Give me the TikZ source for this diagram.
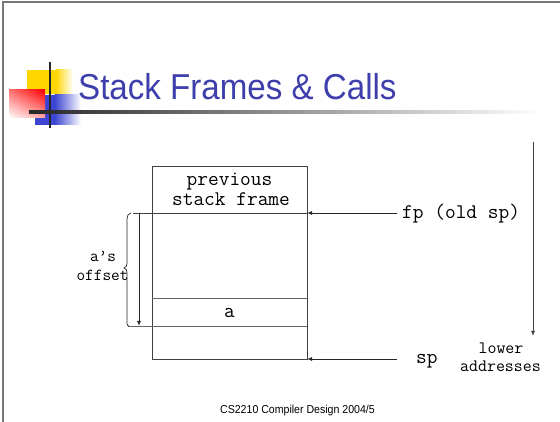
\documentclass[tikz,border=0pt]{standalone}
\usepackage{fontspec}
\usetikzlibrary{arrows.meta,shadings}
\newfontfamily\titlefont[FakeStretch=0.92]{Liberation Sans}
\newcommand{\monofont}{\ttfamily}
\definecolor{titleblue}{RGB}{62,62,172}
\definecolor{logoyellow}{RGB}{255,214,0}
\definecolor{logoblue}{RGB}{60,70,210}
\definecolor{framegrey}{RGB}{120,120,120}
\tikzset{
  mono/.style={font=\monofont\fontsize{20.8}{22}\selectfont, inner sep=0pt},
  monosmall/.style={font=\monofont\fontsize{16.8}{18}\selectfont, inner sep=0pt},
  monolow/.style={font=\monofont\fontsize{17.4}{19}\selectfont, inner sep=0pt},
  boxline/.style={draw=black!75, line width=0.9pt},
  ptr/.style={draw=black!85, line width=0.9pt, -{Latex[length=5pt,width=4pt]}},
}
\begin{document}
\begin{tikzpicture}[x=1pt,y=-1pt]
\useasboundingbox (0,0) rectangle (560,422);
% slide frame
\draw[framegrey, line width=2pt] (2.5,422) -- (2.5,2.5) -- (560,2.5);
% logo
\fill[logoyellow] (27,70) rectangle (56,94.5);
\shade[left color=logoyellow, right color=white] (55.5,70) rectangle (73,94.5);
\fill[logoblue] (35,95) rectangle (55,125);
\shade[left color=logoblue, right color=white] (54.5,95) rectangle (81,125);
\shade[upper right=red, upper left=red!55!white, lower right=red!35!white, lower left=white] (9,90) rectangle (45,118);
\draw[black!85, line width=2pt] (50,62) -- (50,128);
\shade[left color=black!85, right color=white] (29,110.8) rectangle (540,113.6);
% title
\node[anchor=base west, inner sep=0pt, text=titleblue, font=\titlefont\fontsize{36}{40}\selectfont] (title) at (78,100) {Stack Frames \& Calls};
% stack box
\node[boxline, minimum width=155pt, minimum height=193pt, inner sep=0pt] (stack) at (229.5,262.5) {};
\coordinate (fpline) at (307,213);
\coordinate (fpleft) at (133,213);
\coordinate (aTop) at (152,298);
\coordinate (aTopR) at (307,298);
\coordinate (aBot) at (128,326);
\coordinate (aBotR) at (307,326);
\coordinate (spline) at (307,359);
\draw[boxline] (fpleft) -- (fpline);
\draw[boxline, draw=black!60] (aTop) -- (aTopR);
\draw[boxline, draw=black!60] (aBot) -- (aBotR);
\node[mono, anchor=base] (prev) at (229.5,186) {previous};
\node[mono, anchor=base] (sframe) at (231,206) {stack frame};
\node[mono, anchor=base] (avar) at (229.5,317) {a};
% offset arrow and brace
\coordinate (offTop) at (139,213);
\coordinate (offBot) at (139,326);
\draw[ptr] (offTop) -- (offBot);
\coordinate (brTop) at (131,213);
\coordinate (brBot) at (129,326);
\draw[black!85, line width=0.7pt] (brTop) to[out=180,in=90] (127,219) -- (127,263) to[out=-90,in=0] (124,268) to[out=0,in=90] (127,273) -- (127,320) to[out=-90,in=180] (brBot);
\node[monosmall, anchor=base] (aof) at (103,262) {a’s};
\node[monosmall, anchor=base] (offs) at (102.5,281) {offset};
% pointers
\node[mono, anchor=base west] (fp) at (402,219) {fp (old sp)};
\node[mono, anchor=base west] (sp) at (416,363) {sp};
\draw[ptr] (397,213) -- (fpline);
\draw[ptr] (397,359) -- (spline);
% lower addresses
\coordinate (dirTop) at (533,142);
\coordinate (dirBot) at (533,336);
\draw[ptr, draw=black!75] (dirTop) -- (dirBot);
\node[monolow, anchor=base] (lower) at (501,353) {lower};
\node[monolow, anchor=base] (addr) at (500.5,371) {addresses};
% footer
\node[anchor=base, inner sep=0pt, font=\titlefont\fontsize{11.5}{13}\selectfont] (footer) at (297.5,413) {CS2210 Compiler Design 2004/5};
\end{tikzpicture}
\end{document}
